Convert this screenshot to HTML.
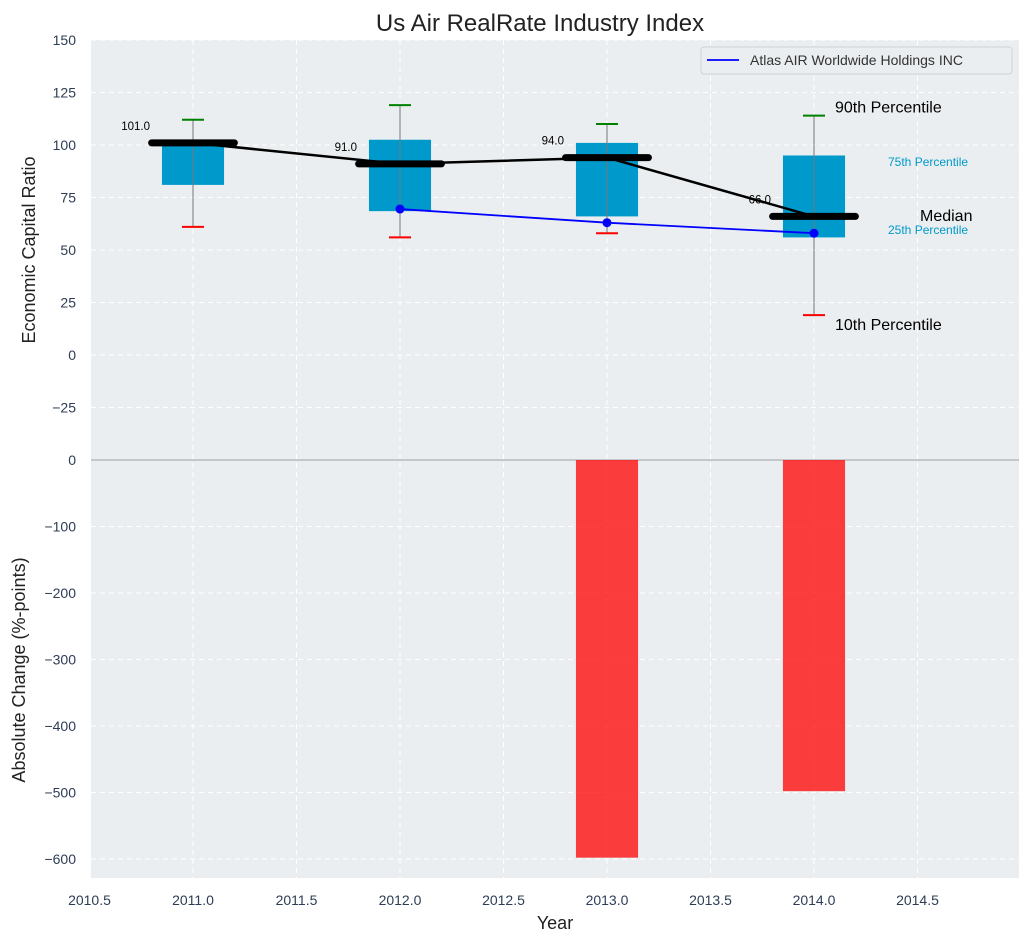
<!DOCTYPE html>
<html><head><meta charset="utf-8"><style>
body{margin:0;background:#fff;}
svg text{font-family:"Liberation Sans","DejaVu Sans",sans-serif;}
</style></head><body>
<svg id="chart" width="1029" height="942" xmlns="http://www.w3.org/2000/svg"></svg>
<script>
const years=[2011,2012,2013,2014];
const p10=[61,56,58,19];
const p25=[81,68.5,66,56];
const medians=[101,91,94,66];
const p75=[102,102.5,101,95];
const p90=[112,119,110,114];
const companyYears=[2012,2013,2014];
const companyVals=[69.5,63,58];
const changeYears=[2013,2014];
const changeVals=[-598,-498];
const xTicks=[2010.5,2011,2011.5,2012,2012.5,2013,2013.5,2014,2014.5];
const yTopTicks=[150,125,100,75,50,25,0,-25];
const yBotTicks=[0,-100,-200,-300,-400,-500,-600];

const NS="http://www.w3.org/2000/svg";
const svg=document.getElementById('chart');
const L=91,R=1019,T1=40,B1=460,T2=460,B2=878;
const x=v=>89.5+(v-2010.5)*207;
const y1=v=>T1+(150-v)*2.1;
const y2=v=>T2+(0-v)*0.665;
function el(tag,attrs,parent){const e=document.createElementNS(NS,tag);for(const k in attrs)e.setAttribute(k,attrs[k]);(parent||svg).appendChild(e);return e;}
function txt(s,attrs){const e=el('text',attrs);e.textContent=s;return e;}
const fmt=v=>v<0?'\u2212'+Math.abs(v):String(v);

let bg=el('rect',{x:L,y:T1,width:R-L,height:B2-T1,fill:'#eaeef0'});


xTicks.forEach(t=>{const g=el('line',{x1:x(t),x2:x(t),y1:T1,y2:B2,stroke:'#fff','stroke-dasharray':'5,4'});


const l=txt(t.toFixed(1),{x:x(t),y:905,'text-anchor':'middle','font-size':14,fill:'#2e3d55'});

});
yTopTicks.forEach(t=>{const g=el('line',{x1:L,x2:R,y1:y1(t),y2:y1(t),stroke:'#fff','stroke-dasharray':'5,4'});


const l=txt(fmt(t),{x:76,y:y1(t)+5,'text-anchor':'end','font-size':14,fill:'#2e3d55'});

});
yBotTicks.forEach(t=>{const g=el('line',{x1:L,x2:R,y1:y2(t),y2:y2(t),stroke:'#fff','stroke-dasharray':'5,4'});


const l=txt(fmt(t),{x:76,y:y2(t)+5,'text-anchor':'end','font-size':14,fill:'#2e3d55'});

});
let sep=el('line',{x1:L,x2:R,y1:460,y2:460,stroke:'#b0b0b0','stroke-width':1.2});



years.forEach((yr,i)=>{
 const b=el('rect',{x:x(yr-0.15),y:y1(p75[i]),width:0.3*207,height:y1(p25[i])-y1(p75[i]),fill:'#0099cc'});
 
 
 const w=el('line',{x1:x(yr),x2:x(yr),y1:y1(p90[i]),y2:y1(p10[i]),stroke:'#777','stroke-width':1});
 
 
 const h=el('line',{x1:x(yr)-11,x2:x(yr)+11,y1:y1(p90[i]),y2:y1(p90[i]),stroke:'green','stroke-width':2});
 
 
 const lo=el('line',{x1:x(yr)-11,x2:x(yr)+11,y1:y1(p10[i]),y2:y1(p10[i]),stroke:'red','stroke-width':2});
 
 
});
let mp=el('polyline',{points:years.map((yr,i)=>x(yr)+','+y1(medians[i])).join(' '),fill:'none',stroke:'#000','stroke-width':2.5});


years.forEach((yr,i)=>{
 const m=el('line',{x1:x(yr-0.2),x2:x(yr+0.2),y1:y1(medians[i]),y2:y1(medians[i]),stroke:'#000','stroke-width':7,'stroke-linecap':'round'});
 
 
 const t=txt(medians[i].toFixed(1),{x:x(yr)-43,y:y1(medians[i])-13,'text-anchor':'end','font-size':11.5,fill:'#000'});
 
 
});
let cp=el('polyline',{points:companyYears.map((yr,i)=>x(yr)+','+y1(companyVals[i])).join(' '),fill:'none',stroke:'#0000ff','stroke-width':1.8});


companyYears.forEach((yr,i)=>{const c=el('circle',{cx:x(yr),cy:y1(companyVals[i]),r:4.5,fill:'#0000ff'});

});
changeYears.forEach((yr,i)=>{const b=el('rect',{x:x(yr-0.15),y:y2(0),width:0.3*207,height:y2(changeVals[i])-y2(0),fill:'#ff0000','fill-opacity':0.75});

});
const li=years.length-1;
[['90th Percentile',x(2014)+21,y1(p90[li])-3,16,'#000'],['10th Percentile',x(2014)+21,y1(p10[li])+15,16,'#000'],
 ['75th Percentile',888,166,12,'#0099cc'],['25th Percentile',888,234,12,'#0099cc'],['Median',920,221,16,'#000']].forEach(a=>{
 const t=txt(a[0],{x:a[1],y:a[2],'font-size':a[3],fill:a[4]});
 
 });
let lg=el('rect',{x:701,y:47,width:311,height:27,rx:3,fill:'#eaeef0',stroke:'#cfd3d6'});


let ll=el('line',{x1:707,x2:739,y1:60,y2:60,stroke:'#0000ff','stroke-width':1.8});


let lt=txt('Atlas AIR Worldwide Holdings INC',{x:750,y:65,'font-size':14,fill:'#333'});


let tt=txt('Us Air RealRate Industry Index',{x:540,y:31,'text-anchor':'middle','font-size':24,fill:'#222'});


let xt=txt('Year',{x:555,y:929,'text-anchor':'middle','font-size':18,fill:'#222'});


let yt=txt('Economic Capital Ratio',{x:0,y:0,'text-anchor':'middle','font-size':18,fill:'#222',transform:'translate(35,250) rotate(-90)'});


let yb=txt('Absolute Change (%-points)',{x:0,y:0,'text-anchor':'middle','font-size':18,fill:'#222',transform:'translate(25,670) rotate(-90)'});


</script>
</body></html>
